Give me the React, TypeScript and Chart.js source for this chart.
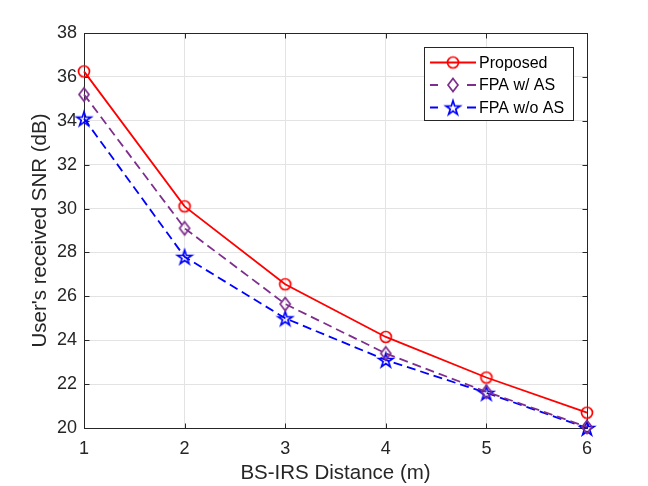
import React, { useEffect, useRef } from "react";
import { Chart, registerables } from "chart.js";

Chart.register(...registerables);

const distances = [1, 2, 3, 4, 5, 6];
const proposed = [36.25, 30.1, 26.55, 24.15, 22.3, 20.7];
const fpaWithAS = [35.2, 29.1, 25.65, 23.4, 21.65, 20.05];
const fpaWithoutAS = [34.1, 27.8, 25.0, 23.1, 21.6, 20.0];
const xTicks = [1, 2, 3, 4, 5, 6];
const yTicks = [20, 22, 24, 26, 28, 30, 32, 34, 36, 38];
const seriesLabels = ["Proposed", "FPA w/ AS", "FPA w/o AS"];
const xTitle = "BS-IRS Distance (m)";
const yTitle = "User's received SNR (dB)";

const RED = "#FF0000";
const PURPLE = "#7E2F8E";
const BLUE = "#0000FF";
const AXIS = "#262626";
const FONT = "'Liberation Sans', Arial, Helvetica, sans-serif";
const LW = 1.8;

function makeMarker(kind: string, color: string): HTMLCanvasElement {
  const size = 20;
  const c = document.createElement("canvas");
  c.width = size;
  c.height = size;
  const ctx = c.getContext("2d")!;
  const m = size / 2;
  ctx.strokeStyle = color;
  ctx.lineWidth = 1.7;
  ctx.lineJoin = "miter";
  ctx.beginPath();
  if (kind === "circle") {
    ctx.arc(m, m, 5.5, 0, Math.PI * 2);
  } else if (kind === "diamond") {
    ctx.moveTo(m, m - 6.5);
    ctx.lineTo(m + 5, m);
    ctx.lineTo(m, m + 6.5);
    ctx.lineTo(m - 5, m);
    ctx.closePath();
  } else {
    const R = 7.5;
    const r = R * 0.382;
    for (let k = 0; k < 10; k++) {
      const a = -Math.PI / 2 + (k * Math.PI) / 5;
      const rad = k % 2 === 0 ? R : r;
      const px = m + rad * Math.cos(a);
      const py = m + 0.8 + rad * Math.sin(a);
      if (k === 0) ctx.moveTo(px, py);
      else ctx.lineTo(px, py);
    }
    ctx.closePath();
  }
  ctx.stroke();
  return c;
}

export default function App() {
  const ref = useRef<HTMLCanvasElement | null>(null);

  useEffect(() => {
    if (!ref.current) return;
    const markers = [
      makeMarker("circle", RED),
      makeMarker("diamond", PURPLE),
      makeMarker("star", BLUE),
    ];
    const colors = [RED, PURPLE, BLUE];
    const dashes: number[][] = [[], [9, 5], [9, 5]];
    const values = [proposed, fpaWithAS, fpaWithoutAS];

    const boxPlugin = {
      id: "matlabBox",
      beforeDatasetsDraw(chart: any) {
        const { ctx, chartArea: a, scales } = chart;
        ctx.save();
        ctx.strokeStyle = AXIS;
        ctx.lineWidth = 1;
        const L = Math.round(a.left) + 0.5;
        const R = Math.round(a.right) + 0.5;
        const T = Math.round(a.top) + 0.5;
        const B = Math.round(a.bottom) + 0.5;
        ctx.strokeRect(L, T, R - L, B - T);
        ctx.beginPath();
        const tl = 5;
        for (const v of xTicks) {
          const x = Math.round(scales.x.getPixelForValue(v)) + 0.5;
          ctx.moveTo(x, B);
          ctx.lineTo(x, B - tl);
          ctx.moveTo(x, T);
          ctx.lineTo(x, T + tl);
        }
        for (const v of yTicks) {
          const y = Math.round(scales.y.getPixelForValue(v)) + 0.5;
          ctx.moveTo(L, y);
          ctx.lineTo(L + tl, y);
          ctx.moveTo(R, y);
          ctx.lineTo(R - tl, y);
        }
        ctx.stroke();
        ctx.restore();
      },
      afterDraw(chart: any) {
        const { ctx } = chart;
        ctx.save();
        const bx = 424.5, by = 47.5, bw = 149, bh = 73;
        ctx.fillStyle = "#ffffff";
        ctx.fillRect(bx, by, bw, bh);
        ctx.strokeStyle = AXIS;
        ctx.lineWidth = 1;
        ctx.strokeRect(bx, by, bw, bh);
        ctx.font = `16px ${FONT}`;
        ctx.textBaseline = "middle";
        ctx.textAlign = "left";
        const rows = [62.5, 85, 107.5];
        seriesLabels.forEach((lab, i) => {
          const y = rows[i];
          ctx.strokeStyle = colors[i];
          ctx.lineWidth = LW;
          ctx.beginPath();
          if (i === 0) {
            ctx.moveTo(430, y);
            ctx.lineTo(476, y);
          } else {
            ctx.moveTo(430, y);
            ctx.lineTo(438, y);
            ctx.moveTo(467, y);
            ctx.lineTo(476, y);
          }
          ctx.stroke();
          ctx.drawImage(markers[i], 453 - 10, y - 10);
          ctx.fillStyle = "#000000";
          ctx.fillText(lab, 479, y + 1);
        });
        ctx.restore();
      },
    };

    const chart = new Chart(ref.current, {
      type: "line",
      data: {
        datasets: values.map((vals, i) => ({
          label: seriesLabels[i],
          data: distances.map((d, j) => ({ x: d, y: vals[j] })),
          borderColor: colors[i],
          backgroundColor: colors[i],
          borderWidth: LW,
          borderDash: dashes[i],
          pointStyle: markers[i] as any,
          pointRadius: 7,
          pointHoverRadius: 7,
          fill: false,
          tension: 0,
          clip: false as any,
        })),
      },
      options: {
        animation: false,
        responsive: false,
        devicePixelRatio: 1,
        events: [],
        layout: { padding: { left: 0, top: 33, right: 61, bottom: 0 } },
        plugins: {
          legend: { display: false },
          tooltip: { enabled: false },
        },
        scales: {
          x: {
            type: "linear",
            min: 1,
            max: 6,
            afterBuildTicks: (s: any) => {
              s.ticks = xTicks.map((v) => ({ value: v }));
            },
            afterFit: (s: any) => {
              s.height = 58;
            },
            grid: { color: "#e3e3e3", drawTicks: false, lineWidth: 1 },
            border: { display: false },
            ticks: {
              color: AXIS,
              padding: 10,
              maxRotation: 0,
              font: { family: FONT, size: 18 },
            },
            title: {
              display: true,
              text: xTitle,
              color: AXIS,
              padding: { top: 0, bottom: 0 },
              font: { family: FONT, size: 20.5 },
            },
          },
          y: {
            type: "linear",
            min: 20,
            max: 38,
            afterBuildTicks: (s: any) => {
              s.ticks = yTicks.map((v) => ({ value: v }));
            },
            afterFit: (s: any) => {
              s.width = 84;
            },
            grid: { color: "#e3e3e3", drawTicks: false, lineWidth: 1 },
            border: { display: false },
            ticks: {
              color: AXIS,
              padding: 7,
              font: { family: FONT, size: 18 },
            },
            title: {
              display: true,
              text: yTitle,
              color: AXIS,
              padding: { top: 28, bottom: 0 },
              font: { family: FONT, size: 20.5 },
            },
          },
        },
      },
      plugins: [boxPlugin],
    });
    return () => chart.destroy();
  }, []);

  return (
    <div style={{ position: "absolute", left: 0, top: 0, width: 648, height: 486, background: "#fff" }}>
      <canvas ref={ref} width={648} height={486} />
    </div>
  );
}
